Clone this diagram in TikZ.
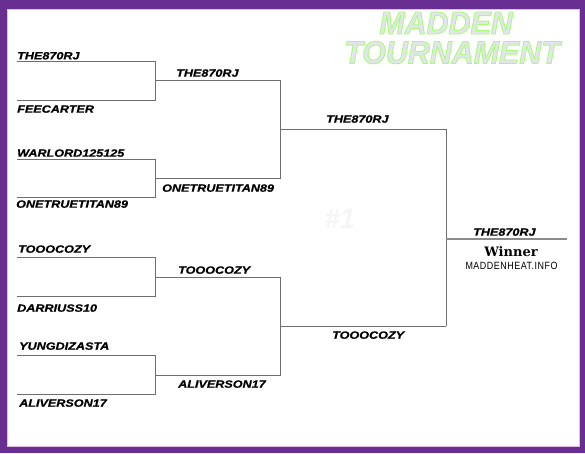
\documentclass[tikz,border=0pt]{standalone}
\usepackage{fontspec}
\usetikzlibrary{positioning}
\newfontfamily\labelfont[FakeStretch=1.2,FakeBold=0.8]{Liberation Sans}
\newfontfamily\titlefont[FakeStretch=0.95]{Liberation Sans}
\newfontfamily\winfont{DejaVu Serif}
\newfontfamily\sitefont[FakeStretch=0.85,LetterSpace=5]{Liberation Sans}
\definecolor{framepurple}{RGB}{104,46,146}
\definecolor{titlefill}{RGB}{228,228,240}
\definecolor{seedgray}{RGB}{245,245,249}
\definecolor{linegray}{RGB}{110,110,110}
% green rim round the title letters
\newcommand{\glowtext}[1]{\special{pdf:literal direct 0.65 1 0.45 RG 0.9 w 1 j 2 Tr}#1\special{pdf:literal direct 0 Tr}}

\begin{document}
\begin{tikzpicture}[x=1pt, y=-1pt,
    player/.style={font=\labelfont\bfseries\itshape\fontsize{10.5}{12}\selectfont, inner sep=0pt, anchor=base west},
    bracket/.style={draw=linegray, line width=0.9pt},
    title/.style={font=\titlefont\bfseries\itshape\fontsize{32}{34}\selectfont, text=titlefill, inner sep=0pt},
    seedmark/.style={font=\titlefont\bfseries\itshape\fontsize{28}{30}\selectfont, text=seedgray, inner sep=0pt}
]
    \useasboundingbox (0,0) rectangle (585,453);
    \fill[framepurple] (0,0) rectangle (585,453);
    \fill[white] (7,9) rectangle (579,446);
    \draw[violet!25, line width=0.6pt] (7,9) rectangle (579,446);

    % title
    \node[title] (title1) at (446,23) {\glowtext{MADDEN}};
    \node[title] (title2) at (452,52.5) {\glowtext{TOURNAMENT}};
    \node[seedmark] (seed) at (340,219) {\#1};

    % bracket corners
    \coordinate (a1) at (17,61);    \coordinate (a2) at (17,100.5);
    \coordinate (b1) at (17,159);   \coordinate (b2) at (17,197.5);
    \coordinate (c1) at (17,257);   \coordinate (c2) at (17,296);
    \coordinate (d1) at (17,355);   \coordinate (d2) at (17,394);
    \coordinate (ab) at (280,80.7); \coordinate (bb) at (280,178.5);
    \coordinate (cb) at (280,277);  \coordinate (db) at (280,375);
    \coordinate (top) at (446,129); \coordinate (bot) at (446,326);
    \coordinate (champ) at (567,239);

    \draw[bracket] (a1) -- ++(138,0) |- (a2);
    \draw[bracket] (b1) -- ++(138,0) |- (b2);
    \draw[bracket] (c1) -- ++(138,0) |- (c2);
    \draw[bracket] (d1) -- ++(138,0) |- (d2);
    \draw[bracket] (155,80.7) -- (ab) -- (bb) -- (155,178.5);
    \draw[bracket] (155,277) -- (cb) -- (db) -- (155,375);
    \draw[bracket] (top) -- (280,129);
    \draw[bracket] (bot) -- (280,326);
    \draw[bracket] (top) -- (bot);
    \draw[linegray!80, line width=1.3pt] (446,239) -- (champ);

    % round 1
    \node[player] (p1) at (17,59.4) {THE870RJ};
    \node[player] (p2) at (17,112.7) {FEECARTER};
    \node[player] (p3) at (17,156.7) {WARLORD125125};
    \node[player] (p4) at (16,207.7) {ONETRUETITAN89};
    \node[player] (p5) at (18,252.7) {TOOOCOZY};
    \node[player] (p6) at (17,311.7) {DARRIUSS10};
    \node[player] (p7) at (19,349.7) {YUNGDIZASTA};
    \node[player] (p8) at (19,406.7) {ALIVERSON17};

    % round 2
    \node[player] (q1) at (176,76.7) {THE870RJ};
    \node[player] (q2) at (162,191.7) {ONETRUETITAN89};
    \node[player] (q3) at (178,273.7) {TOOOCOZY};
    \node[player] (q4) at (178,387.7) {ALIVERSON17};

    % round 3
    \node[player] (r1) at (326,122.7) {THE870RJ};
    \node[player] (r2) at (332,338.7) {TOOOCOZY};

    % final
    \node[player] (w1) at (473,235.7) {THE870RJ};
    \node[font=\winfont\bfseries\fontsize{13}{15}\selectfont, inner sep=0pt] (winner) at (511,251.5) {Winner};
    \node[font=\sitefont\fontsize{10.5}{12}\selectfont, inner sep=0pt] (site) at (511.5,266) {MADDENHEAT.INFO};
\end{tikzpicture}
\end{document}
